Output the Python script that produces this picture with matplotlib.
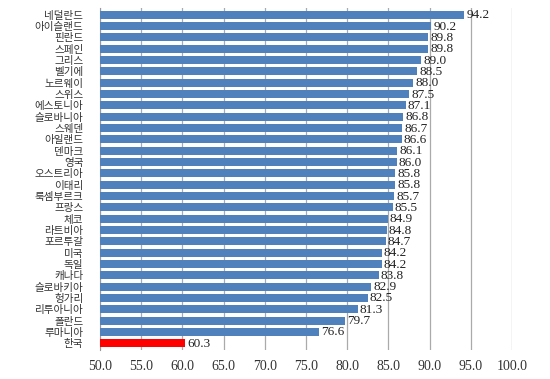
import numpy as np
import matplotlib.pyplot as plt

# 국가별 값 (위에서 아래 순서)
countries = ["네덜란드", "아이슬랜드", "핀란드", "스페인", "그리스", "벨기에", "노르웨이", "스위스",
             "에스토니아", "슬로바니아", "스웨덴", "아일랜드", "덴마크", "영국", "오스트리아", "이태리",
             "룩셈부르크", "프랑스", "체코", "라트비아", "포르투갈", "미국", "독일", "캐나다",
             "슬로바키아", "헝가리", "리투아니아", "폴란드", "루마니아", "한국"]
values = [94.2, 90.2, 89.8, 89.8, 89.0, 88.5, 88.0, 87.5, 87.1, 86.8, 86.7, 86.6, 86.1, 86.0, 85.8,
          85.8, 85.7, 85.5, 84.9, 84.8, 84.7, 84.2, 84.2, 83.8, 82.9, 82.5, 81.3, 79.7, 76.6, 60.3]
xticks = [50, 55, 60, 65, 70, 75, 80, 85, 90, 95, 100]

plt.rcParams['font.family'] = ['Noto Sans CJK KR', 'DejaVu Sans']

fig = plt.figure(figsize=(5.5, 3.79), dpi=100)
ax = fig.add_axes([100/550, 1 - 350/379, 412/550, 342/379])

y = np.arange(len(countries))
colors = ['#4F81BD'] * (len(countries) - 1) + ['#FF0000']
ax.barh(y, [v - 50 for v in values], left=50, height=0.7, color=colors, zorder=3)

for yi, v in zip(y, values):
    ax.text(v + 0.25, yi + 0.05, f"{v:.1f}", va='center', ha='left', fontsize=9.5,
            family='Liberation Serif', color='#222222', zorder=4)

ax.set_xlim(50, 100)
ax.set_ylim(len(countries) - 0.4, -0.6)
ax.set_xticks(xticks)
ax.set_xticklabels([f"{t:.1f}" for t in xticks], family='Liberation Serif', fontsize=10)
ax.set_yticks(y)
ax.set_yticklabels(countries, fontsize=7.6)
ax.tick_params(axis='both', length=0, colors='#333333')
ax.tick_params(axis='x', pad=7)
ax.tick_params(axis='y', pad=12)

ax.grid(axis='x', color='#AAAAAA', linewidth=0.9, zorder=0)
for s in ['top', 'right', 'bottom']:
    ax.spines[s].set_visible(False)
ax.spines['left'].set_color('#999999')

fig.savefig('out.png', dpi=100)
